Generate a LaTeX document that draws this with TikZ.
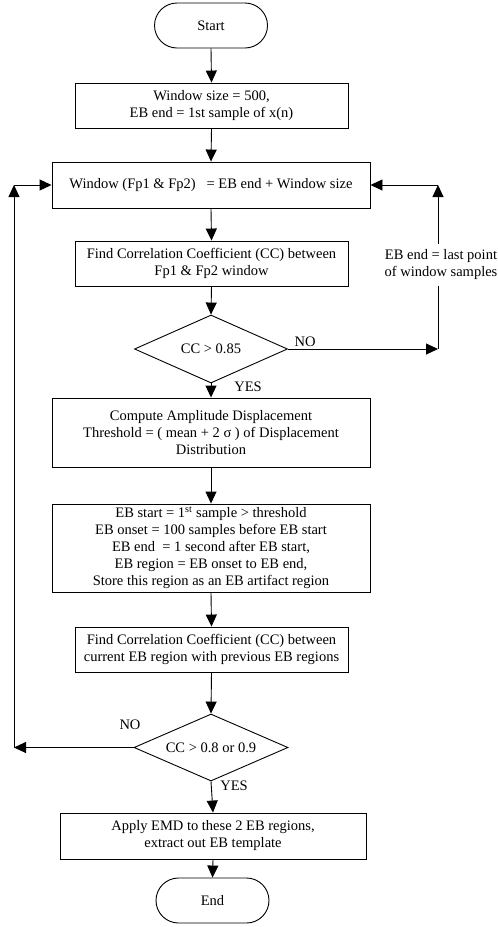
\documentclass[tikz,border=0pt]{standalone}
\usepackage{fontspec}
\setmainfont{Liberation Serif}
\usepackage{tikz}
\usetikzlibrary{positioning}
\usetikzlibrary{arrows.meta,shapes}
\usetikzlibrary{calc}

\begin{document}
\begin{tikzpicture}[x=1pt, y=-1pt, line width=0.9pt, >={Triangle[width=11pt,length=12pt]},
  txt/.style={font=\fontsize{14.5}{17}\selectfont},
  box/.style={draw, rectangle, inner sep=0pt, align=center, txt},
  term/.style={draw, rounded rectangle, minimum width=113pt, minimum height=45pt, inner sep=0pt, txt},
  cond/.style={draw, diamond, aspect=2.25, minimum width=153pt, minimum height=68pt, inner sep=0pt, txt}]
 \useasboundingbox (0,0) rectangle (498,927);

 %start
 \node[term] (start) at (211,25.5) {Start};
 \node[box, minimum width=273pt, minimum height=45pt] (size) at (211.5,105.5) {Window size = 500,\\EB end = 1st sample of x(n)};
 \node[box, minimum width=318pt, minimum height=46pt] (window) at (211,185) {Window (Fp1 \& Fp2) \ \ = EB end + Window size};
 \node[box, minimum width=273pt, minimum height=45pt] (cc1) at (211.5,263.5) {Find Correlation Coefficient (CC) between\\Fp1 \& Fp2 window};

 %first check
 \node[cond] (d1) at (211,349) {CC > 0.85};
 \node[txt, align=center, inner sep=5pt] (last) at (441,265) {EB end = last point\\of window samples};

 %threshold
 \node[box, minimum width=318pt, minimum height=69pt] (amp) at (211,432.5) {Compute Amplitude Displacement\\Threshold = ( mean + 2 σ ) of Displacement\\Distribution};
 \node[box, minimum width=318pt, minimum height=88pt] (eb) at (211,548) {EB start = 1\textsuperscript{st} sample > threshold\\EB onset = 100 samples before EB start\\EB end \ = 1 second after EB start,\\EB region = EB onset to EB end,\\Store this region as an EB artifact region};
 \node[box, minimum width=273pt, minimum height=45pt] (cc2) at (211.5,649.5) {Find Correlation Coefficient (CC) between\\current EB region with previous EB regions};

 %second check
 \node[cond, minimum width=154pt, minimum height=67pt] (d2) at (211,747.5) {CC > 0.8 or 0.9};
 \node[box, minimum width=306pt, minimum height=46pt] (emd) at (213,836) {Apply EMD to these 2 EB regions,\\extract out EB template};
 \node[term] (stop) at (212.5,900.5) {End};

 %yes/no
 \node[txt] (no1) at (305,342) {NO};
 \node[txt] (yes1) at (248,387) {YES};
 \node[txt] (no2) at (130,725) {NO};
 \node[txt] (yes2) at (234,786) {YES};

 %corners
 \coordinate (rdown) at (438,349);
 \coordinate (rup) at (438,185);
 \coordinate (ldown) at (14,747.5);
 \coordinate (lup) at (14,185);

 %lines
 \path[draw, ->] (start.south) -- (size.north);
 \path[draw, ->] (size.south) -- (window.north);
 \path[draw, ->] (window.south) -- (cc1.north);
 \path[draw, ->] (cc1.south) -- (d1.north);

 \path[draw, ->] (d1.east) -- (rdown);
 \path[draw] (rdown |- last.south) -- (rdown);
 \path[draw, ->] (rup |- last.north) -- (rup);
 \path[draw, ->] (rup) -- (window.east);

 \path[draw, ->] (d1.south) -- (amp.north);
 \path[draw, ->] (amp.south) -- (eb.north);
 \path[draw, ->] (eb.south) -- (cc2.north);
 \path[draw, ->] (cc2.south) -- (d2.north);

 \path[draw, ->] (d2.west) -- (ldown);
 \path[draw, ->] (ldown) -- (lup);
 \path[draw, ->] (lup) -- (window.west);

 \path[draw, ->] (d2.south) -- (emd.north);
 \path[draw, ->] (emd.south) -- (stop.north);

\end{tikzpicture}
\end{document}
